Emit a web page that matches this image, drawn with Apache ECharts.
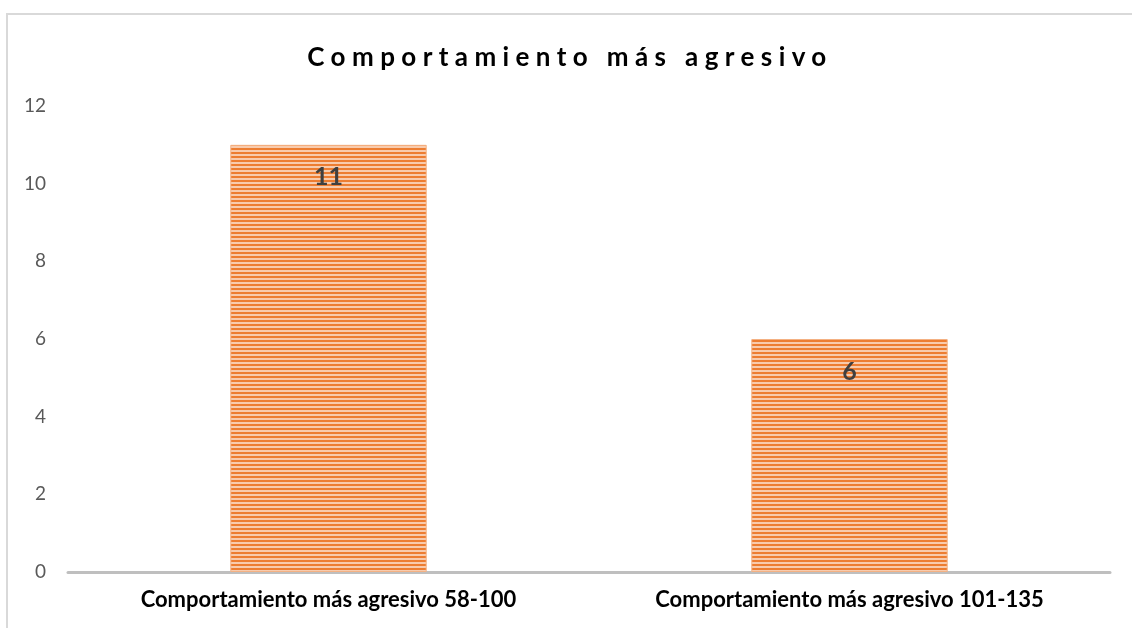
<!DOCTYPE html>
<html><head><meta charset="utf-8">
<script src="https://cdn.jsdelivr.net/npm/echarts@6/dist/echarts.min.js"></script>
<style>
html,body{margin:0;padding:0;background:#fff;}
#frame{position:absolute;left:6px;top:13px;width:1140px;height:640px;border-left:2px solid #d9d9d9;border-top:2px solid #d9d9d9;box-sizing:border-box;}
#title{position:absolute;left:4px;top:40px;width:1132px;text-align:center;font-family:Lato,sans-serif;font-weight:bold;font-size:26px;line-height:32px;letter-spacing:6.4px;color:#000;}
#chart{position:absolute;left:0;top:0;width:1132px;height:628px;}
</style></head>
<body>
<div id="frame"></div>
<div id="chart"></div>
<div id="title">Comportamiento más agresivo</div>
<script>
const categories = ["Comportamiento más agresivo 58-100", "Comportamiento más agresivo 101-135"];
const values = [11, 6];
const yTicks = [0, 2, 4, 6, 8, 10, 12];

const pc = document.createElement('canvas');
pc.width = 4; pc.height = 4;
const g = pc.getContext('2d');
g.fillStyle = '#F8CBAD'; g.fillRect(0,0,4,4);
g.fillStyle = '#ED7D31'; g.fillRect(0,0,4,2);

const chart = echarts.init(document.getElementById('chart'), null, {renderer:'canvas'});
chart.setOption({
  animation:false,
  grid:{left:68, right:22, top:106, bottom:56, containLabel:false},
  xAxis:{type:'category', data:categories,
    axisLine:{lineStyle:{color:'#bfbfbf', width:3}},
    axisTick:{show:false},
    axisLabel:{color:'#000', fontFamily:'Lato', fontWeight:'bold', fontSize:22, margin:17}},
  yAxis:{type:'value', min:yTicks[0], max:yTicks[yTicks.length-1], interval:2,
    axisLine:{show:false}, axisTick:{show:false}, splitLine:{show:false},
    axisLabel:{color:'#595959', fontFamily:'Lato', fontSize:19, margin:22}},
  series:[{type:'bar', data:values, barWidth:'37.7%',
    itemStyle:{color:{image:pc, repeat:'repeat'}, borderColor:'#F4B183', borderWidth:1},
    label:{show:true, position:'insideTop', distance:20, color:'#404040', fontFamily:'Lato', fontWeight:'bold', fontSize:25}}]
});
</script>
</body></html>
